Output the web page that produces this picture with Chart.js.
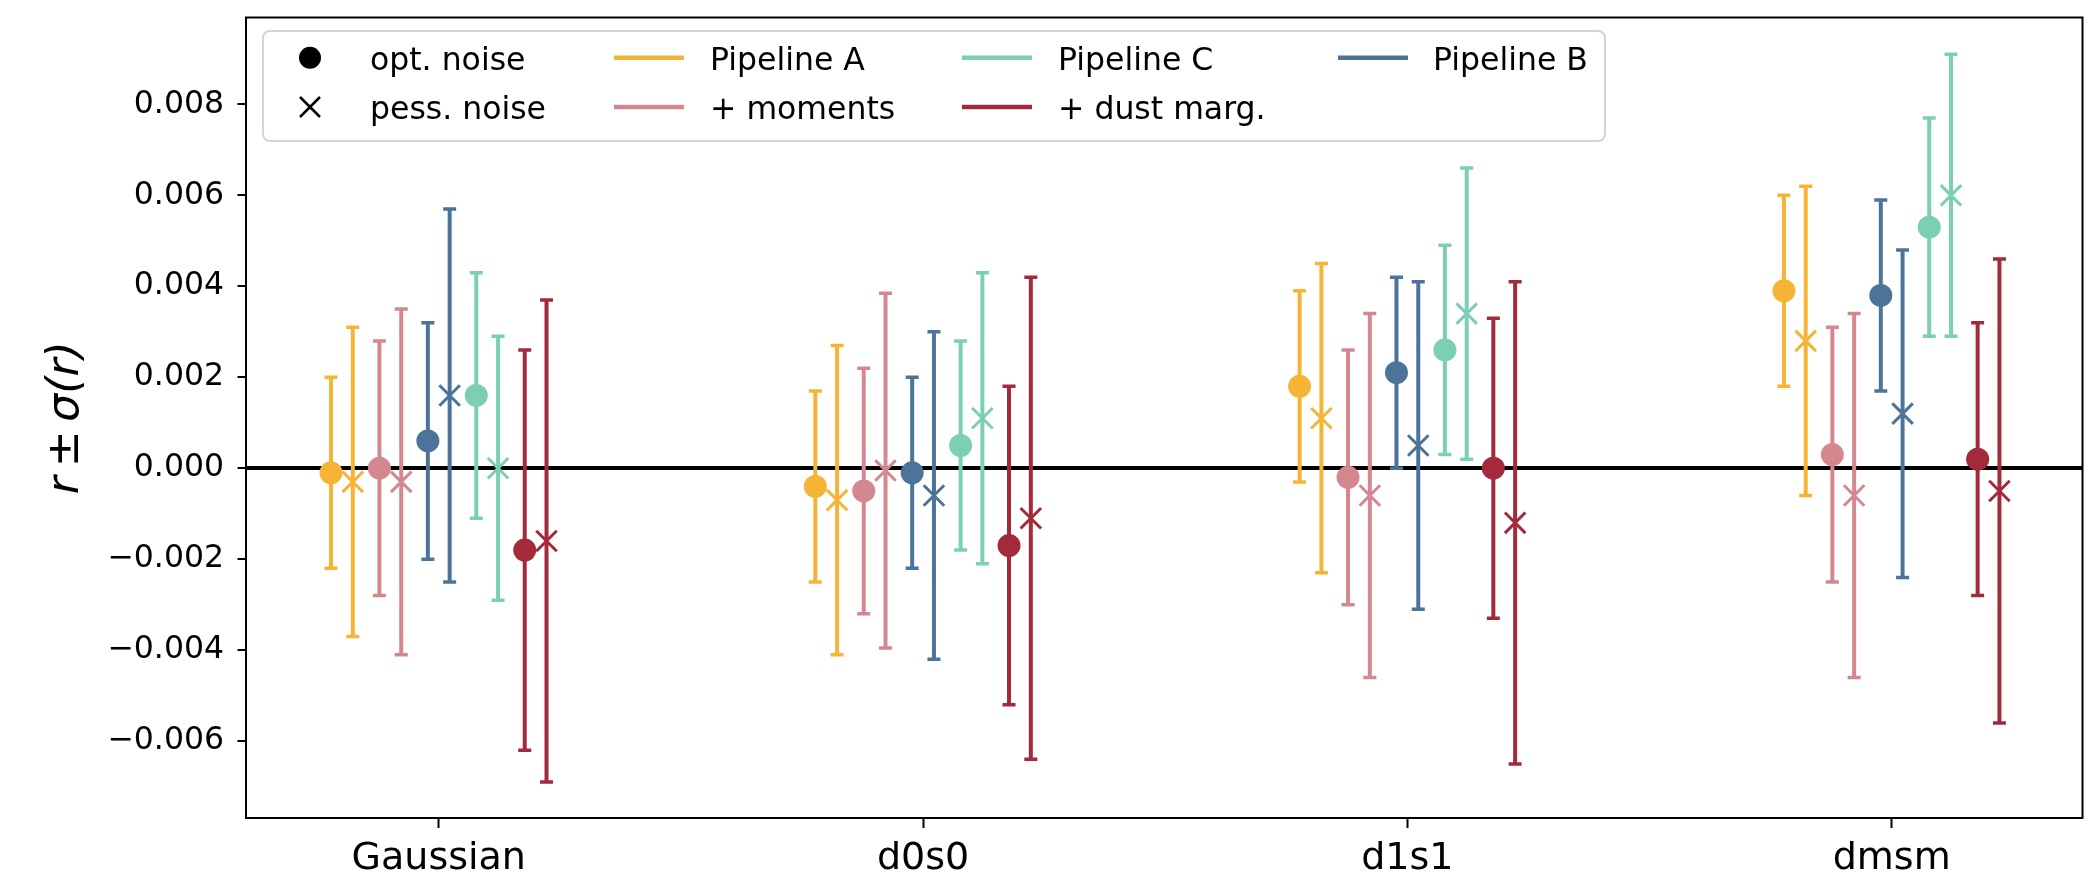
<!DOCTYPE html>
<html>
<head>
<meta charset="utf-8">
<script src="https://cdn.jsdelivr.net/npm/chart.js@4.4.0/dist/chart.umd.min.js"></script>
<style>
  html, body { margin: 0; padding: 0; background: #fff; }
  #wrap { width: 2100px; height: 879px; }
</style>
</head>
<body>
<div id="wrap"><canvas id="chart" width="2100" height="879"></canvas></div>
<script>
// Categories and ticks
const categories = ["Gaussian", "d0s0", "d1s1", "dmsm"];
const xTicks = [0, 1, 2, 3];
const yTicks = [-0.006, -0.004, -0.002, 0, 0.002, 0.004, 0.006, 0.008];

// Pipelines, in the order they are plotted inside each category
const pipelines = ["Pipeline A", "+ moments", "Pipeline B", "Pipeline C", "+ dust marg."];
const pipelineColors = ["#f6b437", "#d5878f", "#4c7399", "#7bcfb4", "#a32a3a"];

// r with optimistic noise, and its sigma
const aOpt = [-0.0001, -0.0004, 0.0018, 0.0039];
const aOptErr = [0.0021, 0.0021, 0.0021, 0.0021];
const momOpt = [0.0000, -0.0005, -0.0002, 0.0003];
const momOptErr = [0.0028, 0.0027, 0.0028, 0.0028];
const bOpt = [0.0006, -0.0001, 0.0021, 0.0038];
const bOptErr = [0.0026, 0.0021, 0.0021, 0.0021];
const cOpt = [0.0016, 0.0005, 0.0026, 0.0053];
const cOptErr = [0.0027, 0.0023, 0.0023, 0.0024];
const dustOpt = [-0.0018, -0.0017, 0.0000, 0.0002];
const dustOptErr = [0.0044, 0.0035, 0.0033, 0.0030];

// r with pessimistic noise, and its sigma
const aPess = [-0.0003, -0.0007, 0.0011, 0.0028];
const aPessErr = [0.0034, 0.0034, 0.0034, 0.0034];
const momPess = [-0.0003, -0.00005, -0.0006, -0.0006];
const momPessErr = [0.0038, 0.0039, 0.0040, 0.0040];
const bPess = [0.0016, -0.0006, 0.0005, 0.0012];
const bPessErr = [0.0041, 0.0036, 0.0036, 0.0036];
const cPess = [0.0000, 0.0011, 0.0034, 0.0060];
const cPessErr = [0.0029, 0.0032, 0.0032, 0.0031];
const dustPess = [-0.0016, -0.0011, -0.0012, -0.0005];
const dustPessErr = [0.0053, 0.0053, 0.0053, 0.0051];

const optValues = [aOpt, momOpt, bOpt, cOpt, dustOpt];
const optErrors = [aOptErr, momOptErr, bOptErr, cOptErr, dustOptErr];
const pessValues = [aPess, momPess, bPess, cPess, dustPess];
const pessErrors = [aPessErr, momPessErr, bPessErr, cPessErr, dustPessErr];

// legend columns (indices into pipelines)
const legendColumns = [[0, 1], [3, 4], [2]];
const noiseLabels = ["opt. noise", "pess. noise"];

// horizontal placement inside a category
const pipelineShift = [-0.2, -0.1, 0, 0.1, 0.2];
const noiseShift = 0.0225;

Chart.defaults.font.family = "'DejaVu Sans', sans-serif";
Chart.defaults.color = "#000";

let errorPoints = function(vals, errs, dx) {
  let pts = [];
  categories.forEach(function(c, i) {
    pts.push({x: i + dx, y: vals[i] - errs[i]});
    pts.push({x: i + dx, y: vals[i] + errs[i]});
    pts.push({x: i + dx, y: null});
  });
  return pts;
};

let markerPoints = function(vals, dx) {
  return categories.map(function(c, i) {
    return {x: i + dx, y: vals[i]};
  });
};

let datasets = [];
pipelines.forEach(function(name, p) {
  let color = pipelineColors[p];
  [0, 1].forEach(function(n) {
    let vals = n === 0 ? optValues[p] : pessValues[p];
    let errs = n === 0 ? optErrors[p] : pessErrors[p];
    let dx = pipelineShift[p] + (n === 0 ? -noiseShift : noiseShift);

    // error bar with caps
    datasets.push({
      label: name + " err",
      data: errorPoints(vals, errs, dx),
      showLine: true,
      spanGaps: false,
      borderColor: color,
      borderWidth: 4,
      pointStyle: "line",
      pointRadius: 6.5,
      pointBorderWidth: 3.5,
      pointBorderColor: color,
      pointBackgroundColor: color,
      order: 2
    });

    // the marker itself
    datasets.push({
      label: name + " " + noiseLabels[n],
      data: markerPoints(vals, dx),
      showLine: false,
      pointStyle: n === 0 ? "circle" : "crossRot",
      pointRadius: n === 0 ? 11.5 : 14.5,
      pointBorderWidth: n === 0 ? 0 : 3,
      pointBackgroundColor: color,
      pointBorderColor: color,
      order: 1
    });
  });
});

// box around the axes plus the matplotlib style legend
const frameAndLegend = {
  id: "frameAndLegend",
  afterDraw: function(chart) {
    let ctx = chart.ctx;
    let a = chart.chartArea;
    ctx.save();
    ctx.strokeStyle = "#000";
    ctx.lineWidth = 2;
    ctx.strokeRect(a.left, a.top, a.right - a.left, a.bottom - a.top);

    ctx.beginPath();
    ctx.roundRect(263, 31, 1342, 110, 7);
    ctx.fillStyle = "rgba(255,255,255,0.8)";
    ctx.fill();
    ctx.strokeStyle = "#d4d4d4";
    ctx.lineWidth = 2;
    ctx.stroke();

    let rowMid = [57.7, 107];
    let rowBase = [70, 118.5];
    ctx.font = "31.5px 'DejaVu Sans'";
    ctx.textBaseline = "alphabetic";
    ctx.textAlign = "left";

    // noise markers
    ctx.fillStyle = "#000";
    ctx.beginPath();
    ctx.arc(310, rowMid[0], 11, 0, Math.PI * 2);
    ctx.fill();
    ctx.strokeStyle = "#000";
    ctx.lineWidth = 2.5;
    ctx.beginPath();
    ctx.moveTo(300, rowMid[1] - 10);
    ctx.lineTo(320, rowMid[1] + 10);
    ctx.moveTo(320, rowMid[1] - 10);
    ctx.lineTo(300, rowMid[1] + 10);
    ctx.stroke();
    ctx.fillText(noiseLabels[0], 370, rowBase[0]);
    ctx.fillText(noiseLabels[1], 370, rowBase[1]);

    // pipeline lines
    let lineX = [614, 962, 1338];
    let textX = [710, 1058, 1433];
    legendColumns.forEach(function(col, c) {
      col.forEach(function(p, r) {
        ctx.strokeStyle = pipelineColors[p];
        ctx.lineWidth = 4.5;
        ctx.beginPath();
        ctx.moveTo(lineX[c], rowMid[r]);
        ctx.lineTo(lineX[c] + 70, rowMid[r]);
        ctx.stroke();
        ctx.fillStyle = "#000";
        ctx.fillText(pipelines[p], textX[c], rowBase[r]);
      });
    });
    ctx.restore();
  }
};

let fmtTick = function(v) {
  return (v < 0 ? "\u2212" : "") + Math.abs(v).toFixed(3);
};

new Chart("chart", {
  type: "scatter",
  data: { datasets: datasets },
  plugins: [frameAndLegend],
  options: {
    responsive: false,
    animation: false,
    devicePixelRatio: 1,
    events: [],
    layout: { padding: { left: 0, top: 15, right: 17, bottom: 0 } },
    plugins: {
      legend: { display: false },
      tooltip: { enabled: false }
    },
    scales: {
      x: {
        type: "linear",
        min: -0.398,
        max: 3.394,
        bounds: "data",
        afterBuildTicks: function(s) { s.ticks = xTicks.map(v => ({value: v})); },
        afterFit: function(s) {
          s.height = 61;
          s.paddingLeft = 0;
          s.paddingRight = 0;
        },
        grid: { drawOnChartArea: false, drawTicks: true, tickLength: 10, tickWidth: 2, tickColor: "#000" },
        border: { display: false },
        ticks: {
          autoSkip: false,
          maxRotation: 0,
          padding: 8,
          color: "#000",
          font: { size: 38 },
          callback: function(v) { return categories[Math.round(v)]; }
        }
      },
      y: {
        type: "linear",
        min: -0.00769,
        max: 0.00991,
        bounds: "data",
        afterBuildTicks: function(s) { s.ticks = yTicks.map(v => ({value: v})); },
        afterFit: function(s) {
          s.width = 246;
          s.paddingTop = 0;
          s.paddingBottom = 0;
        },
        grid: {
          color: ctx => (ctx.tick && ctx.tick.value === 0) ? "#000" : "rgba(0,0,0,0)",
          lineWidth: ctx => (ctx.tick && ctx.tick.value === 0) ? 4 : 0,
          tickLength: 8.5,
          tickWidth: 2,
          tickColor: "#000"
        },
        border: { display: false },
        ticks: {
          padding: 13.5,
          color: "#000",
          font: { size: 31.5 },
          callback: fmtTick
        },
        title: {
          display: true,
          text: "r\u2009\u00b1\u2009\u03c3(r)",
          color: "#000",
          font: { size: 44, style: "italic" },
          padding: { top: 40, bottom: 0 }
        }
      }
    }
  }
});
</script>
</body>
</html>
